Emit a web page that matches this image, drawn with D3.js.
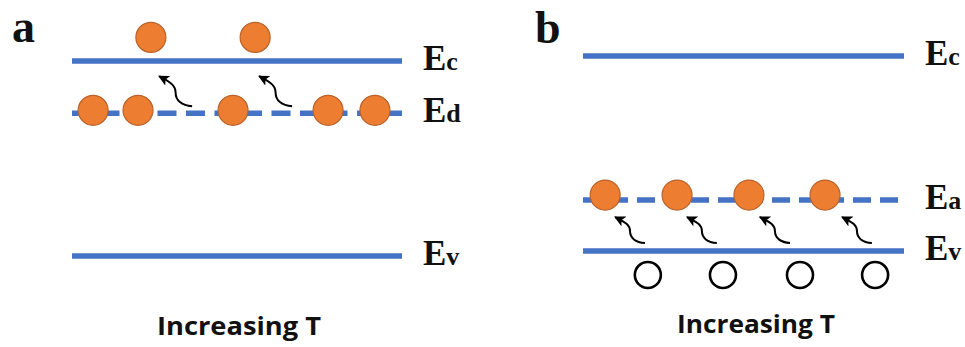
<!DOCTYPE html>
<html>
<head>
<meta charset="utf-8">
<script src="https://cdn.jsdelivr.net/npm/d3@7"></script>
<style>
  html, body { margin: 0; padding: 0; background: #fff; }
  svg { display: block; }
</style>
</head>
<body>
<svg id="chart" width="965" height="347"></svg>
<script>
// ---- Panel a: n-type (donor level) ----
const levelSubsA   = ["c", "d", "v"];          // Ec, Ed, Ev
const levelEnergyA = [1.0, 0.732, 0.0];        // relative energy (Ev = 0, Ec = 1)
const levelDashedA = [false, true, false];

const electronPosA    = [0.239, 0.555, 0.064, 0.200, 0.488, 0.776, 0.918]; // along the level
const electronEnergyA = [1.121, 1.121, 0.747, 0.747, 0.747, 0.747, 0.747];

const arrowFromPosA = [0.364, 0.667];
const arrowFromEA   = [0.768, 0.768];
const arrowToPosA   = [0.264, 0.567];
const arrowToEA     = [0.922, 0.922];

// ---- Panel b: p-type (acceptor level) ----
const levelSubsB   = ["c", "a", "v"];          // Ec, Ea, Ev
const levelEnergyB = [1.0, 0.262, 0.0];
const levelDashedB = [false, true, false];

const electronPosB    = [0.069, 0.293, 0.517, 0.754];
const electronEnergyB = [0.287, 0.287, 0.287, 0.287];

const holePosB    = [0.202, 0.436, 0.676, 0.910];
const holeEnergyB = [-0.123, -0.123, -0.123, -0.123];

const arrowFromPosB = [0.193, 0.417, 0.645, 0.900];
const arrowFromEB   = [0.041, 0.041, 0.041, 0.041];
const arrowToPosB   = [0.100, 0.324, 0.551, 0.807];
const arrowToEB     = [0.174, 0.174, 0.174, 0.174];

const panelLetters = ["a", "b"];
const captionText  = "Increasing T";

// ---- styles ----
const BLUE = "#4472C4";
const ORANGE = "#ED7D31";
const ORANGE_EDGE = "#B8622A";

const svg = d3.select("#chart");

// arrowhead used by the thermal-excitation arrows
svg.append("defs").append("marker")
  .attr("id", "head")
  .attr("viewBox", "0 0 10 10")
  .attr("refX", 9).attr("refY", 5)
  .attr("markerWidth", 11).attr("markerHeight", 11)
  .attr("markerUnits", "userSpaceOnUse")
  .attr("orient", "auto")
  .append("path")
  .attr("d", "M0,0 L10,5 L0,10 L2.5,5 Z")
  .attr("fill", "#000");

function wavyArrow(x0, y0, x1, y1) {
  const dx = x1 - x0, dy = y1 - y0;
  const p = d3.path();
  p.moveTo(x0, y0);
  p.bezierCurveTo(x0 + 0.32 * dx, y0 + 0.02 * dy,
                  x0 + 0.5 * dx,  y0 + 0.2 * dy,
                  x0 + 0.5 * dx,  y0 + 0.45 * dy);
  p.bezierCurveTo(x0 + 0.5 * dx,  y0 + 0.68 * dy,
                  x0 + 0.62 * dx, y0 + 0.78 * dy,
                  x1, y1);
  return p.toString();
}

function drawPanel(cfg) {
  const g = svg.append("g");
  const x = d3.scaleLinear().domain([0, 1]).range(cfg.xRange);
  const y = d3.scaleLinear().domain([0, 1]).range(cfg.yRange);

  const levels = cfg.subs.map((s, i) => ({ sub: s, e: cfg.energy[i], dashed: cfg.dashed[i] }));

  // energy levels
  g.selectAll("line.level").data(levels).join("line")
    .attr("class", "level")
    .attr("x1", x(0)).attr("x2", x(1))
    .attr("y1", d => y(d.e)).attr("y2", d => y(d.e))
    .attr("stroke", BLUE)
    .attr("stroke-width", 5.5)
    .attr("stroke-dasharray", d => d.dashed ? cfg.dash : null);

  // level labels: E with a lowercase suffix
  const lab = g.selectAll("text.lvl").data(levels).join("text")
    .attr("class", "lvl")
    .attr("x", x(1) + 21)
    .attr("y", d => y(d.e) + 9)
    .attr("font-family", "'Liberation Serif', 'Times New Roman', serif")
    .attr("font-weight", "bold")
    .attr("fill", "#111");
  lab.append("tspan").attr("font-size", 35).text("E");
  lab.append("tspan").attr("font-size", 26).text(d => d.sub);

  // excitation arrows
  const arrows = cfg.aFromPos.map((p, i) => ({
    x0: x(p), y0: y(cfg.aFromE[i]), x1: x(cfg.aToPos[i]), y1: y(cfg.aToE[i])
  }));
  g.selectAll("path.arrow").data(arrows).join("path")
    .attr("class", "arrow")
    .attr("d", d => wavyArrow(d.x0, d.y0, d.x1, d.y1))
    .attr("fill", "none")
    .attr("stroke", "#000")
    .attr("stroke-width", 2)
    .attr("marker-end", "url(#head)");

  // holes
  if (cfg.hPos) {
    g.selectAll("circle.hole").data(cfg.hPos.map((p, i) => [p, cfg.hE[i]])).join("circle")
      .attr("class", "hole")
      .attr("cx", d => x(d[0])).attr("cy", d => y(d[1]))
      .attr("r", 13)
      .attr("fill", "#fff")
      .attr("stroke", "#000")
      .attr("stroke-width", 2.6);
  }

  // electrons
  g.selectAll("circle.electron").data(cfg.ePos.map((p, i) => [p, cfg.eE[i]])).join("circle")
    .attr("class", "electron")
    .attr("cx", d => x(d[0])).attr("cy", d => y(d[1]))
    .attr("r", 15)
    .attr("fill", ORANGE)
    .attr("stroke", ORANGE_EDGE)
    .attr("stroke-width", 1.2);

  // panel letter
  g.append("text")
    .attr("x", cfg.letterPos[0]).attr("y", cfg.letterPos[1])
    .attr("font-family", "'Liberation Serif', 'Times New Roman', serif")
    .attr("font-weight", "bold")
    .attr("font-size", 46)
    .attr("fill", "#111")
    .text(cfg.letter);

  // caption
  g.append("text")
    .attr("x", cfg.captionPos[0]).attr("y", cfg.captionPos[1])
    .attr("text-anchor", "middle")
    .attr("font-family", "'Open Sans', Lato, sans-serif")
    .attr("font-weight", "bold")
    .attr("font-size", 25)
    .attr("textLength", cfg.captionWidth)
    .attr("lengthAdjust", "spacingAndGlyphs")
    .attr("fill", "#111")
    .text(captionText);
}

drawPanel({
  letter: panelLetters[0], letterPos: [12, 42],
  xRange: [72, 402], yRange: [256, 61],
  subs: levelSubsA, energy: levelEnergyA, dashed: levelDashedA, dash: "19 9.5",
  ePos: electronPosA, eE: electronEnergyA,
  aFromPos: arrowFromPosA, aFromE: arrowFromEA, aToPos: arrowToPosA, aToE: arrowToEA,
  captionPos: [239, 335], captionWidth: 164
});

drawPanel({
  letter: panelLetters[1], letterPos: [535, 43],
  xRange: [583, 904], yRange: [251, 56],
  subs: levelSubsB, energy: levelEnergyB, dashed: levelDashedB, dash: "18 9",
  ePos: electronPosB, eE: electronEnergyB,
  hPos: holePosB, hE: holeEnergyB,
  aFromPos: arrowFromPosB, aFromE: arrowFromEB, aToPos: arrowToPosB, aToE: arrowToEB,
  captionPos: [756, 333], captionWidth: 158
});
</script>
</body>
</html>
